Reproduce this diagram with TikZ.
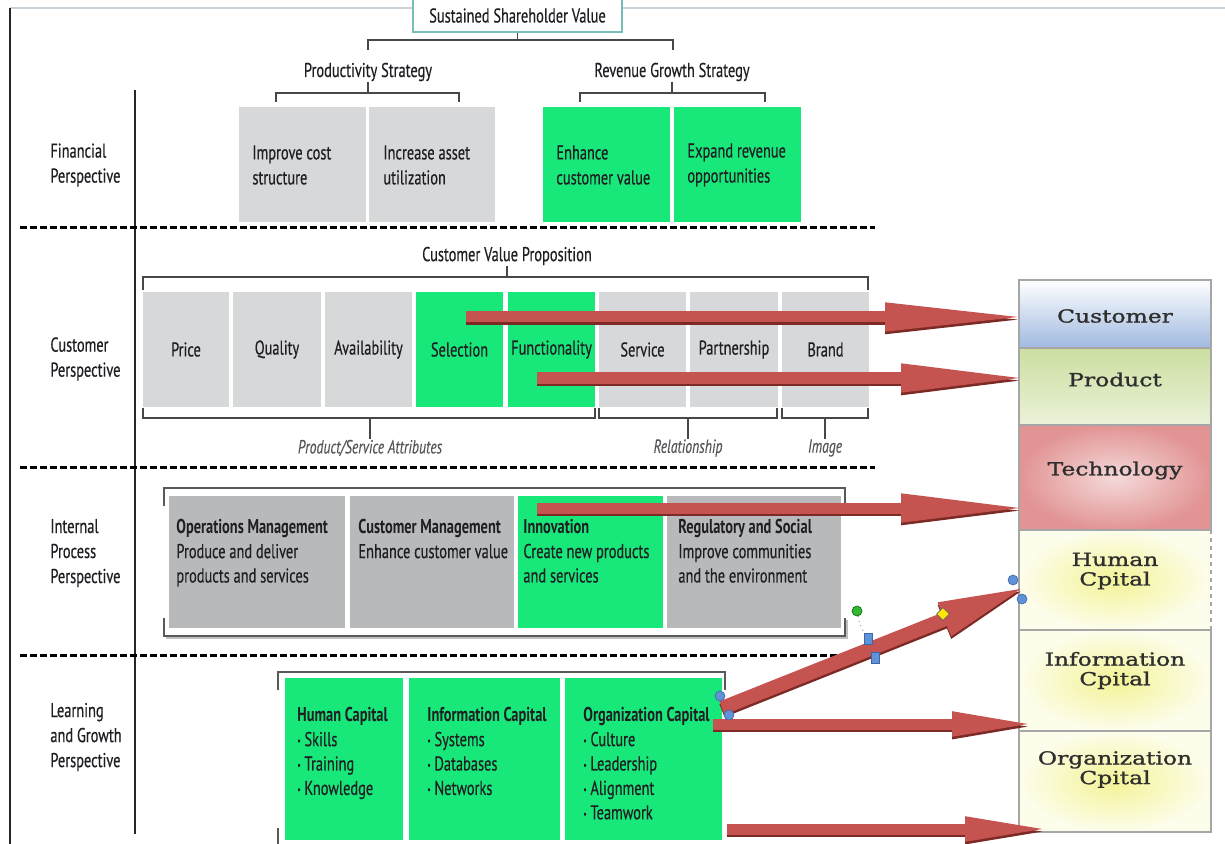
\documentclass[tikz,border=0pt]{standalone}
\usepackage{fontspec}
\setmainfont{PT Sans}[FakeStretch=0.72,UprightFeatures={FakeBold=0.35},ItalicFeatures={FakeBold=0.2}]
\newfontfamily\rbfont{DejaVu Serif}[FakeStretch=1.3,FakeBold=1.3]
\usetikzlibrary{arrows.meta,shapes.geometric}
\definecolor{grn}{RGB}{24,232,122}
\definecolor{lgray}{RGB}{215,216,218}
\definecolor{mgray}{RGB}{184,185,187}
\definecolor{txt}{RGB}{30,30,35}
\definecolor{itx}{RGB}{85,85,90}
\definecolor{arrc}{RGB}{197,84,80}
\definecolor{arrd}{RGB}{125,42,38}
\definecolor{hblue}{RGB}{96,146,214}
\definecolor{hbd}{RGB}{60,100,170}
\definecolor{topln}{RGB}{200,208,216}
\definecolor{cblue}{RGB}{160,186,224}
\definecolor{pgreen}{RGB}{204,222,160}
\definecolor{tred}{RGB}{226,148,148}
\definecolor{cyel}{RGB}{243,243,150}
\definecolor{ccream}{RGB}{253,253,236}
\definecolor{ssvb}{RGB}{120,190,182}
\newcommand\mkbox[6]{%
  \pgfmathsetmacro\mybw{(#4-#2)*0.5}%
  \pgfmathsetmacro\mybh{(#5-#3)*0.5}%
  \node[anchor=north west,inner sep=0pt,outer sep=0pt,minimum width=\mybw pt,minimum height=\mybh pt,#6] (#1) at (#2,#3) {};}
\newcommand\redarrow[5]{%
  \draw[line width=#3,arrd,-{Triangle[length=#5,width=#4]}] ([yshift=-1.3pt]#1) -- ([yshift=-1.3pt]#2);
  \draw[line width=#3,arrc,-{Triangle[length=#5,width=#4]}] (#1) -- (#2);}
\tikzset{
  lbl/.style={anchor=west,align=left,inner sep=0pt,text=txt,font=\fontsize{10}{12.5}\selectfont},
  tlb/.style={anchor=north west,align=left,inner sep=0pt,text=txt,font=\fontsize{10}{12.2}\selectfont},
  ctr/.style={inner sep=0pt,text=txt,font=\fontsize{10}{12.5}\selectfont},
  itl/.style={inner sep=0pt,text=itx,font=\fontsize{9.5}{12}\selectfont\itshape},
  brk/.style={draw=black!72,line width=0.75pt},
  frm/.style={draw=black!65,line width=1.1pt},
  dsh/.style={draw=black,line width=1.5pt,dash pattern=on 3.5pt off 1.5pt},
  rb/.style={inner sep=0pt,align=center,text=black!82,font=\rbfont\fontsize{9}{9.8}\selectfont},
  rbox/.style={draw=black!35,line width=0.6pt},
  hcirc/.style={circle,fill=hblue,draw=hbd,line width=0.3pt,inner sep=0pt,minimum size=5pt},
  hsq/.style={rectangle,fill=hblue,draw=hbd,line width=0.3pt,inner sep=0pt,minimum width=4pt,minimum height=5.5pt},
}
\begin{document}
\begin{tikzpicture}[x=0.5pt,y=-0.5pt]
\useasboundingbox (0,0) rectangle (1225,844);
\fill[white] (0,0) rectangle (1225,844);
% frame
\draw[topln,line width=0.8pt] (10,8) -- (1225,8);
\draw[black!85,line width=1.3pt] (10,8) -- (10,844);
\draw[black!85,line width=1pt] (135,90) -- (135,834);
% top
\node[draw=ssvb,fill=white,line width=0.6pt,minimum width=104.5pt,minimum height=16.5pt,inner sep=0pt,text=txt,font=\fontsize{10}{12}\selectfont] (ssv) at (517.5,15.5) {Sustained Shareholder Value};
\node[ctr] (ps) at (368,72) {Productivity Strategy};
\node[ctr] (rg) at (672,72) {Revenue Growth Strategy};
\draw[brk] (ssv.south) -- (ssv.south |- 0,40);
\draw[brk] (368,50) -- (368,40) -- (673,40) -- (673,50);
\draw[brk] (ps.south) -- (ps.south |- 0,93);
\draw[brk] (276,102) -- (276,93) -- (459,93) -- (459,102);
\draw[brk] (rg.south) -- (rg.south |- 0,93);
\draw[brk] (580,102) -- (580,93) -- (765,93) -- (765,102);
% financial
\node[lbl] (fin) at (50,165) {Financial\\Perspective};
\mkbox{ic}{239}{107}{366}{222}{fill=lgray}
\mkbox{ia}{369}{107}{495}{222}{fill=lgray}
\mkbox{ec}{543}{107}{670}{222}{fill=grn}
\mkbox{er}{674}{107}{801}{222}{fill=grn}
\node[lbl] (ict) at (252,165) {Improve cost\\structure};
\node[lbl] (iat) at (383,165) {Increase asset\\utilization};
\node[lbl] (ect) at (556,165) {Enhance\\customer value};
\node[lbl] (ert) at (687,165) {Expand revenue\\opportunities};
\draw[dsh] (20,228) -- (875,228);
% customer
\node[lbl] (cus) at (50,359) {Customer\\Perspective};
\node[ctr] (cvp) at (507,256) {Customer Value Proposition};
\draw[brk] (cvp.south) -- (cvp.south |- 0,277);
\draw[brk] (143,290) -- (143,277) -- (868,277) -- (868,290);
\mkbox{price}{143}{292}{229}{407}{fill=lgray}
\mkbox{qual}{233}{292}{321}{407}{fill=lgray}
\mkbox{avail}{325}{292}{412}{407}{fill=lgray}
\mkbox{sel}{416}{292}{503}{407}{fill=grn}
\mkbox{func}{508}{292}{595}{407}{fill=grn}
\mkbox{serv}{599}{292}{686}{407}{fill=lgray}
\mkbox{part}{690}{292}{778}{407}{fill=lgray}
\mkbox{brand}{782}{292}{869}{407}{fill=lgray}
\node[ctr] (pricet) at (price.center) {Price};
\node[ctr] (qualt) at (qual.center) {Quality};
\node[ctr] (availt) at (avail.center) {Availability};
\node[ctr] (selt) at (sel.center) {Selection};
\node[ctr] (funct) at (func.center) {Functionality};
\node[ctr] (servt) at (serv.center) {Service};
\node[ctr] (partt) at (part.center) {Partnership};
\node[ctr] (brandt) at (brand.center) {Brand};
\draw[brk] (143,408) -- (143,418) -- (595,418) -- (595,408);
\draw[brk] (599,408) -- (599,418) -- (777,418) -- (777,408);
\draw[brk] (782,408) -- (782,418) -- (868,418) -- (868,408);
\node[itl] (psa) at (370,448) {Product/Service Attributes};
\node[itl] (rel) at (688,448) {Relationship};
\node[itl] (img) at (825,448) {Image};
\draw[brk] (psa.north |- 0,418) -- (psa.north);
\draw[brk] (rel.north |- 0,418) -- (rel.north);
\draw[brk] (img.north |- 0,418) -- (img.north);
\draw[dsh] (20,467) -- (875,467);
% internal
\node[lbl] (ipp) at (50,553) {Internal\\Process\\Perspective};
\draw[black!25,line width=1.2pt] (166,638) -- (847,638) -- (847,620);
\draw[frm] (164,506) -- (164,488) -- (845,488) -- (845,506);
\draw[frm] (164,618) -- (164,636) -- (845,636) -- (845,618);
\mkbox{ops}{169}{496}{345}{628}{fill=mgray}
\mkbox{cm}{350}{496}{514}{628}{fill=mgray}
\mkbox{inn}{518}{496}{663}{628}{fill=grn}
\mkbox{reg}{667}{496}{841}{628}{fill=mgray}
\node[tlb] (opst) at (176,519) {\textbf{Operations Management}\\Produce and deliver\\products and services};
\node[tlb] (cmt) at (358,519) {\textbf{Customer Management}\\Enhance customer value};
\node[tlb] (innt) at (523,519) {\textbf{Innovation}\\Create new products\\and services};
\node[tlb] (regt) at (678,519) {\textbf{Regulatory and Social}\\Improve communities\\and the environment};
\draw[dsh] (20,655) -- (838,655);
% learning
\node[lbl] (lgp) at (50,737) {Learning\\and Growth\\Perspective};
\draw[frm] (278,690) -- (278,672) -- (725,672) -- (725,690);
\draw[frm] (278,828) -- (278,844);
\mkbox{hc}{285}{678}{403}{840}{fill=grn}
\mkbox{infc}{409}{678}{560}{840}{fill=grn}
\mkbox{orgc}{565}{678}{722}{840}{fill=grn}
\node[tlb] (hct) at (297,707) {\textbf{Human Capital}\\\raisebox{1pt}{\tiny\textbullet} Skills\\\raisebox{1pt}{\tiny\textbullet} Training\\\raisebox{1pt}{\tiny\textbullet} Knowledge};
\node[tlb] (infct) at (427,707) {\textbf{Information Capital}\\\raisebox{1pt}{\tiny\textbullet} Systems\\\raisebox{1pt}{\tiny\textbullet} Databases\\\raisebox{1pt}{\tiny\textbullet} Networks};
\node[tlb] (orgct) at (583,707) {\textbf{Organization Capital}\\\raisebox{1pt}{\tiny\textbullet} Culture\\\raisebox{1pt}{\tiny\textbullet} Leadership\\\raisebox{1pt}{\tiny\textbullet} Alignment\\\raisebox{1pt}{\tiny\textbullet} Teamwork};
% right boxes
\mkbox{rcust}{1019}{280}{1211}{348}{rbox,top color=white,bottom color=cblue}
\mkbox{rprod}{1019}{348}{1211}{425}{rbox,top color=pgreen,bottom color=pgreen!40!white}
\mkbox{rtech}{1019}{425}{1211}{530}{rbox,shading=radial,inner color=tred!35!white,outer color=tred}
\mkbox{rhum}{1019}{530}{1211}{630}{shading=radial,inner color=cyel,outer color=ccream}
\mkbox{rinf}{1019}{630}{1211}{731}{rbox,shading=radial,inner color=cyel,outer color=ccream}
\mkbox{rorg}{1019}{731}{1211}{832}{rbox,shading=radial,inner color=cyel,outer color=ccream}
\draw[black!35,line width=0.6pt] (rhum.north east) -- (rhum.north west) -- (rhum.south west) -- (rhum.south east);
\draw[black!35,line width=0.6pt,dash pattern=on 2pt off 2pt] (rhum.north east) -- (rhum.south east);
\node[rb] (rcustt) at ([yshift=-1pt]rcust.center) {Customer};
\node[rb] (rprodt) at ([yshift=3.5pt]rprod.center) {Product};
\node[rb] (rtecht) at ([yshift=3.5pt]rtech.center) {Technology};
\node[rb] (rhumt) at ([yshift=4.5pt]rhum.center) {Human\\Cpital};
\node[rb] (rinft) at ([yshift=5pt]rinf.center) {Information\\Cpital};
\node[rb] (rorgt) at ([yshift=6pt]rorg.center) {Organization\\Cpital};
% arrows
\coordinate (a1s) at (466,317);
\coordinate (a1e) at ([xshift=5pt]a1s -| rcust.west);
\coordinate (a2s) at (537,378);
\coordinate (a2e) at ([xshift=5pt]a2s -| rprod.west);
\coordinate (a3s) at (537,508);
\coordinate (a3e) at ([xshift=5pt]a3s -| rtech.west);
\coordinate (a4s) at (722,708);
\coordinate (a4e) at (1028,586);
\coordinate (a5s) at (713,724);
\coordinate (a5e) at (1038,724);
\coordinate (a6s) at (727,829);
\coordinate (a6e) at (1053,829);
\redarrow{a1s}{a1e}{5.5pt}{13pt}{72pt}
\redarrow{a2s}{a2e}{5.5pt}{13pt}{64pt}
\redarrow{a3s}{a3e}{5.5pt}{13pt}{64pt}
\redarrow{a4s}{a4e}{7pt}{16pt}{45pt}
\redarrow{a5s}{a5e}{5.5pt}{11pt}{43pt}
\redarrow{a6s}{a6e}{5.5pt}{11pt}{44pt}
% selection handles
\node[hcirc] (h1) at (1013,580) {};
\node[hcirc] (h2) at (1022,599) {};
\node[hcirc] (h3) at (720,696) {};
\node[hcirc] (h4) at (729,715) {};
\node[hsq] (s1) at (868,639) {};
\node[hsq] (s2) at (875,658) {};
\node[circle,fill=green!65!black!80,draw=green!40!black,line width=0.3pt,inner sep=0pt,minimum size=5pt] (rot) at (857,611) {};
\draw[black!60,line width=0.4pt,dotted] (rot) to[bend right=10] (s1);
\node[diamond,fill=yellow!90!orange,draw=black!60,line width=0.3pt,inner sep=0pt,minimum size=6.5pt] (adj) at (943,614) {};
\end{tikzpicture}
\end{document}
